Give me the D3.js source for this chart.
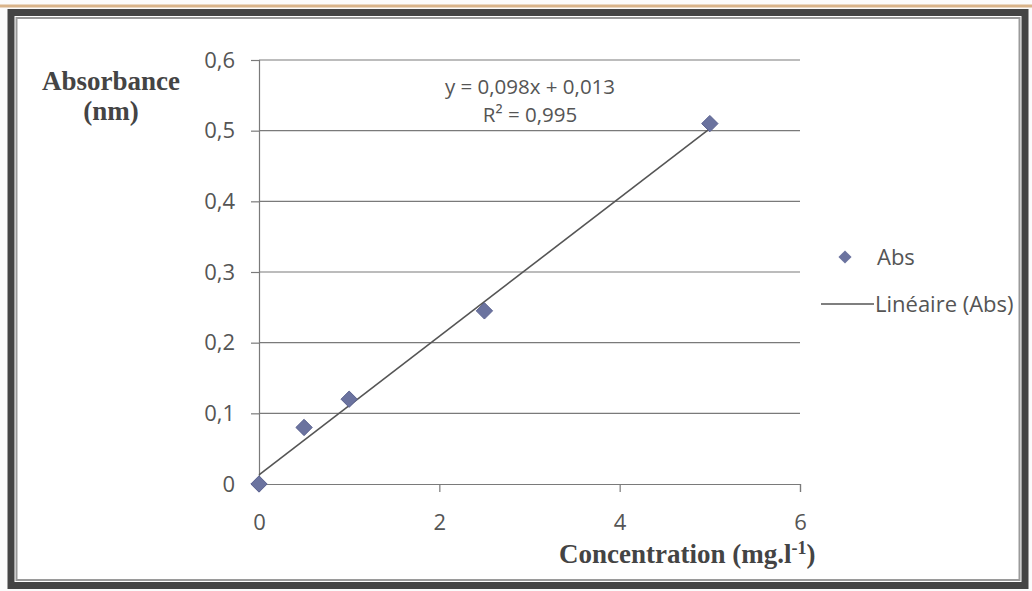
<!DOCTYPE html>
<html><head><meta charset="utf-8">
<script src="https://cdn.jsdelivr.net/npm/d3@7"></script>
<style>body{margin:0;background:#fff}svg{display:block}</style>
</head><body>
<svg id="c" width="1032" height="591"></svg>
<script>
const xValues = [0, 0.5, 1, 2.5, 5];
const yValues = [0, 0.08, 0.12, 0.245, 0.51];
const xTicks = [0, 2, 4, 6];
const yTicks = [0, 0.1, 0.2, 0.3, 0.4, 0.5, 0.6];
const slope = 0.098, intercept = 0.013;
const eqLabels = ["y = 0,098x + 0,013", "R² = 0,995"];
const legendLabels = ["Abs", "Linéaire (Abs)"];

const svg = d3.select("#c");
const fmt = d => String(d).replace(".", ",");
const x = d3.scaleLinear().domain([0, 6]).range([259, 800]);
const y = d3.scaleLinear().domain([0, 0.6]).range([484, 60]);
const sans = "'Open Sans', sans-serif";
const serif = "'Liberation Serif', 'Times New Roman', serif";

// frame
svg.append("rect").attr("x",0).attr("y",0).attr("width",1032).attr("height",591).attr("fill","#fbfbfb");
svg.append("line").attr("x1",0).attr("x2",1032).attr("y1",6).attr("y2",6).attr("stroke","#d9b48a").attr("stroke-width",3);
svg.append("rect").attr("x",11).attr("y",12.5).attr("width",1014).attr("height",573)
  .attr("fill","#fff").attr("stroke","#444").attr("stroke-width",7);
svg.append("rect").attr("x",16.5).attr("y",18).attr("width",1003).attr("height",562)
  .attr("fill","none").attr("stroke","#9a9a9a").attr("stroke-width",2);

// gridlines
svg.append("g").selectAll("line").data(yTicks.filter(d=>d>0)).join("line")
  .attr("x1", x(0)).attr("x2", x(6)).attr("y1", d=>y(d)).attr("y2", d=>y(d))
  .attr("stroke","#7a7a7a").attr("stroke-width",1.2);

// axes
const ya = svg.append("g").attr("transform",`translate(${x(0)},0)`)
  .call(d3.axisLeft(y).tickValues(yTicks).tickFormat(fmt).tickSize(8).tickPadding(16));
const xa = svg.append("g").attr("transform",`translate(0,${y(0)})`)
  .call(d3.axisBottom(x).tickValues(xTicks).tickFormat(fmt).tickSize(8).tickPadding(22));
[ya, xa].forEach(g => {
  g.select(".domain").attr("stroke","#7a7a7a").attr("stroke-width",1.2);
  g.selectAll(".tick line").attr("stroke","#7a7a7a").attr("stroke-width",1.2);
  g.selectAll("text").attr("font-family",sans).attr("font-size",22).attr("fill","#555");
});
xa.selectAll(".tick").filter(d=>d===0).select("line").remove();
ya.selectAll(".tick").filter(d=>d===0).select("line").remove();

// trendline
svg.append("line").attr("x1",x(0)).attr("y1",y(intercept)).attr("x2",x(5)).attr("y2",y(slope*5+intercept))
  .attr("stroke","#555").attr("stroke-width",1.6);

// points
const diamond = d3.symbol().type(d3.symbolDiamond2).size(170);
svg.append("g").selectAll("path").data(xValues).join("path")
  .attr("d", diamond).attr("transform",(d,i)=>`translate(${x(d)},${y(yValues[i])})`)
  .attr("fill","#6b739f").attr("stroke","#5a6190").attr("stroke-width",1);

// equation
svg.append("g").selectAll("text").data(eqLabels).join("text")
  .attr("x",530).attr("y",(d,i)=>94+i*28).attr("text-anchor","middle")
  .attr("font-family",sans).attr("font-size",20.5).attr("fill","#555").text(d=>d);

// axis titles
svg.append("g").selectAll("text").data(["Absorbance","(nm)"]).join("text")
  .attr("x",111).attr("y",(d,i)=>90+i*30).attr("text-anchor","middle")
  .attr("font-family",serif).attr("font-weight","bold")
  .attr("font-size",27).attr("fill","#444").text(d=>d);
const xt = svg.append("text").attr("x",559).attr("y",563)
  .attr("font-family",serif).attr("font-weight","bold")
  .attr("font-size",27).attr("fill","#444");
xt.append("tspan").text("Concentration (mg.l");
xt.append("tspan").attr("dy",-9).attr("font-size",18).text("-1");
xt.append("tspan").attr("dy",9).text(")");

// legend
const lg = svg.append("g");
lg.append("path").attr("d", d3.symbol().type(d3.symbolDiamond2).size(110)).attr("transform","translate(845,257)")
  .attr("fill","#6b739f");
lg.append("line").attr("x1",821).attr("x2",874).attr("y1",304).attr("y2",304).attr("stroke","#555").attr("stroke-width",1.6);
lg.selectAll("text").data(legendLabels).join("text")
  .attr("x",(d,i)=> i===0 ? 877 : 875).attr("y",(d,i)=>265+i*47)
  .attr("font-family",sans).attr("font-size",22).attr("fill","#555").text(d=>d);
</script>
</body></html>
